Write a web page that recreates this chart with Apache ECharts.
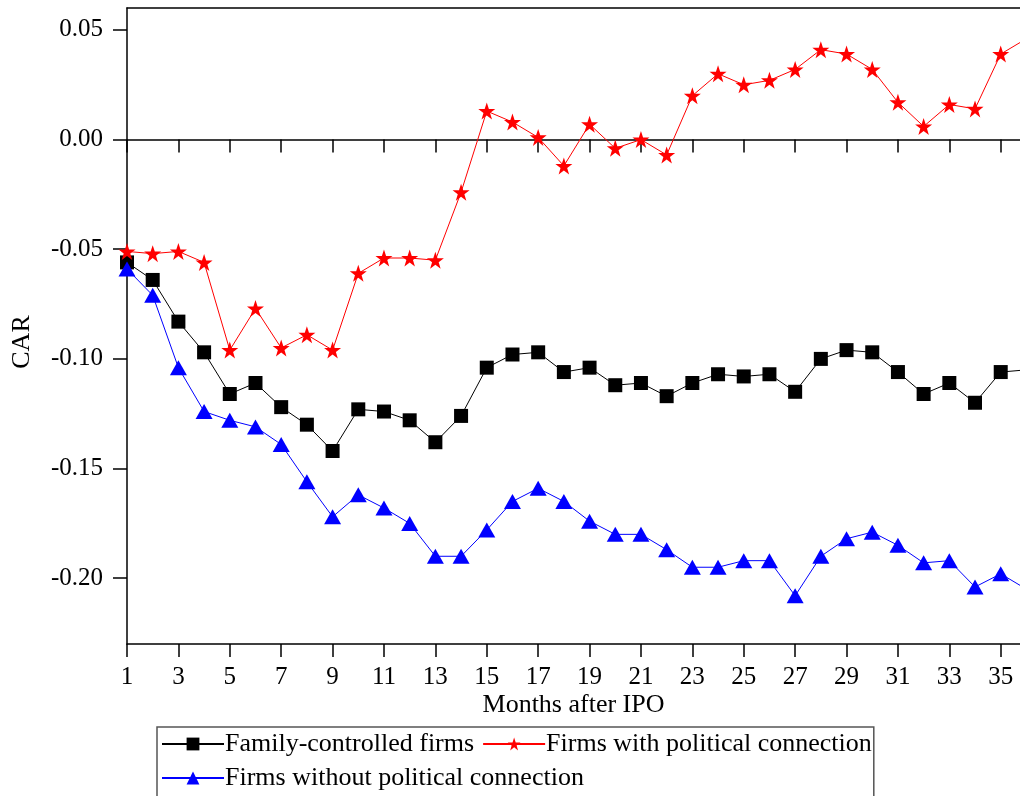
<!DOCTYPE html>
<html>
<head>
<meta charset="utf-8">
<script src="https://cdn.jsdelivr.net/npm/echarts@6/dist/echarts.min.js"></script>
<style>
  * { margin: 0; padding: 0; }
  #container { width: 1020px; height: 796px; background: #fff; }
</style>
</head>
<body>
<div id="container"></div>
<script>
// months after IPO
var months = [];
for (var m = 1; m <= 36; m++) months.push(m);

var familyFirms = [-0.056, -0.064, -0.083, -0.097, -0.116, -0.111, -0.122, -0.130, -0.142, -0.123,
  -0.124, -0.128, -0.138, -0.126, -0.104, -0.098, -0.097, -0.106, -0.104, -0.112,
  -0.111, -0.117, -0.111, -0.107, -0.108, -0.107, -0.115, -0.100, -0.096, -0.097,
  -0.106, -0.116, -0.111, -0.120, -0.106, -0.105];

var politicalFirms = [-0.051, -0.052, -0.051, -0.056, -0.096, -0.077, -0.095, -0.089, -0.096, -0.061,
  -0.054, -0.054, -0.055, -0.024, 0.013, 0.008, 0.001, -0.012, 0.007, -0.004,
  0.000, -0.007, 0.020, 0.030, 0.025, 0.027, 0.032, 0.041, 0.039, 0.032,
  0.017, 0.006, 0.016, 0.014, 0.039, 0.046];

var nonPoliticalFirms = [-0.059, -0.071, -0.104, -0.124, -0.128, -0.131, -0.139, -0.156, -0.172, -0.162,
  -0.168, -0.175, -0.190, -0.190, -0.178, -0.165, -0.159, -0.165, -0.174, -0.180,
  -0.180, -0.187, -0.195, -0.195, -0.192, -0.192, -0.208, -0.190, -0.182, -0.179,
  -0.185, -0.193, -0.192, -0.204, -0.198, -0.205];

var xTicks = [1, 3, 5, 7, 9, 11, 13, 15, 17, 19, 21, 23, 25, 27, 29, 31, 33, 35];
var yTicks = [-0.20, -0.15, -0.10, -0.05, 0.00, 0.05];

var font = 'Liberation Serif';

function pairs(arr) {
  return arr.map(function (v, i) { return [months[i], v]; });
}

var chart = echarts.init(document.getElementById('container'));

var axisLine = { show: true, onZero: false, lineStyle: { color: '#000', width: 1.5 } };

var option = {
  animation: false,
  textStyle: { fontFamily: font },
  grid: { left: 127, right: 0, top: 8, bottom: 152, containLabel: false },
  xAxis: [
    {//底部主轴
      type: 'value', position: 'bottom', min: 1, max: 35.75,
      axisLine: axisLine,
      axisTick: { show: true, length: 13, customValues: xTicks, lineStyle: { color: '#000', width: 1.5 } },
      axisLabel: { customValues: xTicks, color: '#000', fontSize: 25, fontFamily: font, margin: 21 },
      splitLine: { show: false },
      name: 'Months after IPO', nameLocation: 'middle', nameGap: 48, nameMoveOverlap: false,
      nameTextStyle: { color: '#000', fontSize: 26, fontFamily: font }
    },
    {//零线
      type: 'value', position: 'bottom', min: 1, max: 35.75,
      axisLine: { show: true, onZero: true, lineStyle: { color: '#000', width: 1.5 } },
      axisTick: { show: true, length: 13, customValues: xTicks, lineStyle: { color: '#000', width: 1.5 } },
      axisLabel: { show: false },
      splitLine: { show: false }
    },
    {//顶部边框
      type: 'value', position: 'top', min: 1, max: 35.75,
      axisLine: { show: true, onZero: false, lineStyle: { color: '#000', width: 1.5 } },
      axisTick: { show: false },
      axisLabel: { show: false },
      splitLine: { show: false }
    }
  ],
  yAxis: {
    type: 'value', min: -0.23, max: 0.06,
    axisLine: axisLine,
    axisTick: { show: true, length: 14, customValues: yTicks, lineStyle: { color: '#000', width: 1.5 } },
    axisLabel: {
      customValues: yTicks, color: '#000', fontSize: 25, fontFamily: font, margin: 24,
      formatter: function (v) { return v.toFixed(2); }
    },
    splitLine: { show: false },
    name: 'CAR', nameLocation: 'middle', nameGap: 92, nameMoveOverlap: false,
    nameTextStyle: { color: '#000', fontSize: 26, fontFamily: font, padding: [0, 32, 0, 0] }
  },
  legend: {
    left: 157, top: 727, width: 720,
    orient: 'horizontal',
    padding: [4, 2, 30, 4],
    borderColor: '#555', borderWidth: 1.5,
    itemWidth: 62, itemHeight: 16, itemGap: 8,
    textStyle: { color: '#000', fontSize: 26, fontFamily: font, padding: [0, 0, 0, -4] },
    data: ['Family-controlled firms', 'Firms with political connection', 'Firms without political connection']
  },
  series: [
    {
      name: 'Family-controlled firms', type: 'line', data: pairs(familyFirms),
      symbol: 'rect', symbolSize: 14,
      lineStyle: { color: '#000', width: 1 },
      itemStyle: { color: '#000' }
    },
    {
      name: 'Firms with political connection', type: 'line', data: pairs(politicalFirms),
      symbol: 'path://M50,0 L61.8,34.5 L97.6,34.5 L68.5,55.9 L79.4,90.5 L50,69.1 L20.6,90.5 L31.5,55.9 L2.4,34.5 L38.2,34.5 Z',
      symbolSize: 17,
      lineStyle: { color: '#ff0000', width: 1 },
      itemStyle: { color: '#ff0000' }
    },
    {
      name: 'Firms without political connection', type: 'line', data: pairs(nonPoliticalFirms),
      symbol: 'triangle', symbolSize: [17, 15],
      lineStyle: { color: '#0000ff', width: 1 },
      itemStyle: { color: '#0000ff' }
    }
  ]
};

chart.setOption(option);
</script>
</body>
</html>
